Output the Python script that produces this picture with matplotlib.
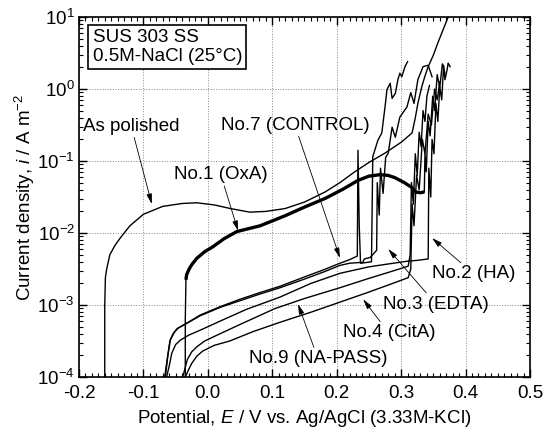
import numpy as np
import matplotlib
matplotlib.use("Agg")
import matplotlib.pyplot as plt
from matplotlib.ticker import MultipleLocator, LogLocator, NullFormatter

plt.rcParams['font.family'] = ['Liberation Sans', 'DejaVu Sans']
plt.rcParams['mathtext.fontset'] = 'custom'
plt.rcParams['mathtext.rm'] = 'Liberation Sans'
plt.rcParams['mathtext.it'] = 'Liberation Sans:italic'
plt.rcParams['axes.unicode_minus'] = False

# potential E (V) and log10 of current density i (A m^-2)
polished_E = [-0.160, -0.160, -0.159, -0.157, -0.152, -0.144, -0.136, -0.121, -0.100, -0.070,
              -0.040, -0.017, 0.010, 0.035, 0.065, 0.090, 0.120, 0.150, 0.182, 0.205, 0.228,
              0.250, 0.275, 0.300, 0.317, 0.322, 0.326, 0.332, 0.337, 0.342, 0.350, 0.357,
              0.365, 0.373]
polished_log = [-4.0, -3.0, -2.62, -2.50, -2.30, -2.17, -2.07, -1.90, -1.74, -1.63,
                -1.59, -1.58, -1.61, -1.66, -1.71, -1.70, -1.66, -1.57, -1.43, -1.30, -1.15,
                -1.02, -0.89, -0.74, -0.61, -0.40, -0.20, 0.03, 0.18, 0.31, 0.47, 0.64,
                0.82, 1.0]

# No.1 (OxA): thin foot below i = 10^-2.65, thick noisy band above
oxa_foot_E = [-0.035, -0.035, -0.034]
oxa_foot_log = [-4.0, -3.2, -2.65]
oxa_E = [-0.034, -0.033, -0.029, -0.025, -0.017, -0.005, 0.008, 0.025, 0.045,
         0.081, 0.120, 0.150, 0.182, 0.210, 0.233, 0.250, 0.267, 0.280, 0.290, 0.305, 0.317,
         0.322, 0.330, 0.336]
oxa_log = [-2.65, -2.58, -2.50, -2.44, -2.35, -2.26, -2.19, -2.08, -1.98,
           -1.90, -1.76, -1.64, -1.52, -1.39, -1.27, -1.21, -1.19, -1.20, -1.23, -1.30, -1.37,
           -1.43, -1.44, -1.43]
oxa_pit_E = [0.336, 0.337, 0.339, 0.342, 0.345, 0.349, 0.352, 0.356, 0.360, 0.364, 0.368]
oxa_pit_log = [-1.43, -0.90, -1.15, -0.45, -0.65, -0.10, -0.30, 0.20, 0.02, 0.35, 0.22]

ctrl_E = [-0.067, -0.063, -0.059, -0.054, -0.048, -0.040, -0.032, -0.012, 0.020, 0.050, 0.080,
          0.112, 0.150, 0.180, 0.205, 0.220, 0.232, 0.233, 0.235, 0.237, 0.254, 0.256, 0.264,
          0.270, 0.275, 0.278, 0.283, 0.286, 0.291, 0.295, 0.298, 0.301, 0.306, 0.310]
ctrl_log = [-4.0, -3.75, -3.50, -3.40, -3.33, -3.29, -3.25, -3.14, -3.02, -2.92, -2.83,
            -2.74, -2.61, -2.51, -2.42, -2.37, -2.32, -0.85, -1.90, -2.42, -2.40, -0.94, -0.71,
            -0.61, -0.25, -0.01, 0.08, -0.13, -0.06, 0.13, 0.22, 0.17, 0.31, 0.38]

edta_E = [-0.066, -0.062, -0.058, -0.052, -0.046, -0.038, -0.030, -0.012, 0.020, 0.050, 0.080,
          0.112, 0.150, 0.180, 0.205, 0.220, 0.235, 0.240, 0.243, 0.252, 0.258, 0.262, 0.263,
          0.266, 0.268, 0.272, 0.276, 0.280, 0.286, 0.291, 0.298, 0.309, 0.315, 0.320, 0.326,
          0.334, 0.342, 0.348]
edta_log = [-4.0, -3.70, -3.48, -3.38, -3.32, -3.28, -3.24, -3.15, -3.03, -2.94, -2.85,
            -2.76, -2.64, -2.54, -2.45, -2.42, -2.41, -2.41, -2.36, -2.34, -2.28, -2.24, -1.30,
            -1.75, -1.10, -1.45, -0.95, -0.89, -0.53, -0.67, -0.39, -0.25, -0.05, -0.20, 0.13,
            0.31, 0.33, 0.17]

ha_E = [-0.064, -0.060, -0.056, -0.050, -0.043, -0.030, -0.012, 0.020, 0.060, 0.112, 0.160,
        0.205, 0.250, 0.280, 0.311, 0.325, 0.342, 0.343, 0.346, 0.348, 0.351, 0.354, 0.357,
        0.360, 0.363, 0.366, 0.368, 0.371, 0.373, 0.376]
ha_log = [-4.0, -3.85, -3.67, -3.55, -3.49, -3.42, -3.35, -3.22, -3.06, -2.89, -2.70,
          -2.56, -2.47, -2.43, -2.39, -2.38, -2.36, -1.10, -1.50, -0.70, -0.90, -0.20, -0.45,
          0.03, -0.15, 0.33, 0.13, 0.25, 0.36, 0.31]

napass_E = [-0.039, -0.036, -0.032, -0.025, -0.017, -0.005, 0.014, 0.050, 0.104, 0.150, 0.205,
            0.250, 0.290, 0.311, 0.314, 0.316, 0.319, 0.322, 0.325, 0.328, 0.331, 0.334, 0.337,
            0.340, 0.344]
napass_log = [-4.0, -3.90, -3.76, -3.65, -3.58, -3.50, -3.42, -3.27, -3.05, -2.91, -2.76,
              -2.63, -2.52, -2.46, -2.30, -1.30, -1.60, -0.90, -1.20, -0.60, -0.80, -0.30, -0.45,
              -0.10, 0.05]

cita_E = [-0.035, -0.030, -0.025, -0.017, -0.008, 0.010, 0.034, 0.070, 0.112, 0.160, 0.205,
          0.250, 0.290, 0.311, 0.315, 0.317, 0.320, 0.324, 0.328, 0.333, 0.337, 0.342, 0.347,
          0.352, 0.356, 0.360]
cita_log = [-4.0, -3.90, -3.81, -3.71, -3.64, -3.56, -3.50, -3.37, -3.24, -3.10, -2.96,
            -2.82, -2.69, -2.62, -2.50, -1.60, -1.90, -1.20, -1.40, -0.70, -0.90, -0.35, -0.50,
            0.0, -0.15, 0.10]

# label, text position, arrow tip
labels = ["As polished", "No.1 (OxA)", "No.7 (CONTROL)", "No.2 (HA)",
          "No.3 (EDTA)", "No.4 (CitA)", "No.9 (NA-PASS)"]
label_xy = [(-0.119, 0.306), (0.020, 0.0646), (0.135, 0.316), (0.413, 2.7e-3),
            (0.354, 1.03e-3), (0.281, 4.1e-4), (0.171, 1.8e-4)]
tip_xy = [(-0.087, 0.0253), (0.047, 0.0107), (0.205, 4.5e-3), (0.348, 8.5e-3),
          (0.280, 6.0e-3), (0.241, 1.2e-3), (0.140, 1.03e-3)]

fs = 13.5

fig = plt.figure(figsize=(5.5, 4.32), dpi=100)
ax = fig.add_axes([0.1436, 0.1273, 0.82, 0.8333])

thin = [(polished_E, polished_log), (ctrl_E, ctrl_log), (edta_E, edta_log),
        (ha_E, ha_log), (napass_E, napass_log), (cita_E, cita_log),
        (oxa_foot_E, oxa_foot_log), (oxa_pit_E, oxa_pit_log)]
for E, lg in thin:
    ax.plot(E, 10.0 ** np.array(lg), color='black', lw=1.0)
ax.plot(oxa_E, 10.0 ** np.array(oxa_log), color='black', lw=2.4, solid_capstyle='butt')

ax.set_yscale('log')
ax.set_xlim(-0.2, 0.5)
ax.set_ylim(1e-4, 1e1)
ax.xaxis.set_major_locator(MultipleLocator(0.1))
ax.xaxis.set_minor_locator(MultipleLocator(0.01))
ax.yaxis.set_major_locator(LogLocator(base=10, numticks=10))
ax.yaxis.set_minor_locator(LogLocator(base=10, subs=np.arange(2, 10), numticks=10))
ax.yaxis.set_minor_formatter(NullFormatter())
ax.xaxis.set_major_formatter(plt.FuncFormatter(lambda v, p: '%.1f' % v))

ax.tick_params(which='both', direction='in', top=True, right=True, labelsize=fs)
ax.tick_params(which='major', length=6, width=1)
ax.tick_params(which='minor', length=3, width=0.8)
ax.tick_params(axis='x', which='major', pad=6)
ax.tick_params(axis='y', which='major', pad=3)
ax.grid(True, which='major', linestyle=':', color='#888888', lw=0.7)
for s in ax.spines.values():
    s.set_linewidth(1.2)

ax.set_xlabel('Potential, $E$ / V vs. Ag/AgCl (3.33M-KCl)', fontsize=fs, labelpad=4)
ax.set_ylabel('Current density, $i$ / A m$^{-2}$', fontsize=fs, labelpad=0)

ax.text(0.03, 0.967, 'SUS 303 SS\n0.5M-NaCl (25°C)', transform=ax.transAxes,
        ha='left', va='top', fontsize=fs, linespacing=1.15,
        bbox=dict(boxstyle='square,pad=0.22', fc='white', ec='black', lw=1.2))

for lab, xy, tip in zip(labels, label_xy, tip_xy):
    ax.annotate(lab, xy=tip, xytext=xy, ha='center', va='center', fontsize=fs,
                arrowprops=dict(arrowstyle='-|>,head_length=0.45,head_width=0.12',
                                lw=0.6, color='black', shrinkA=0, shrinkB=0))

fig.savefig('out.png', dpi=100)
